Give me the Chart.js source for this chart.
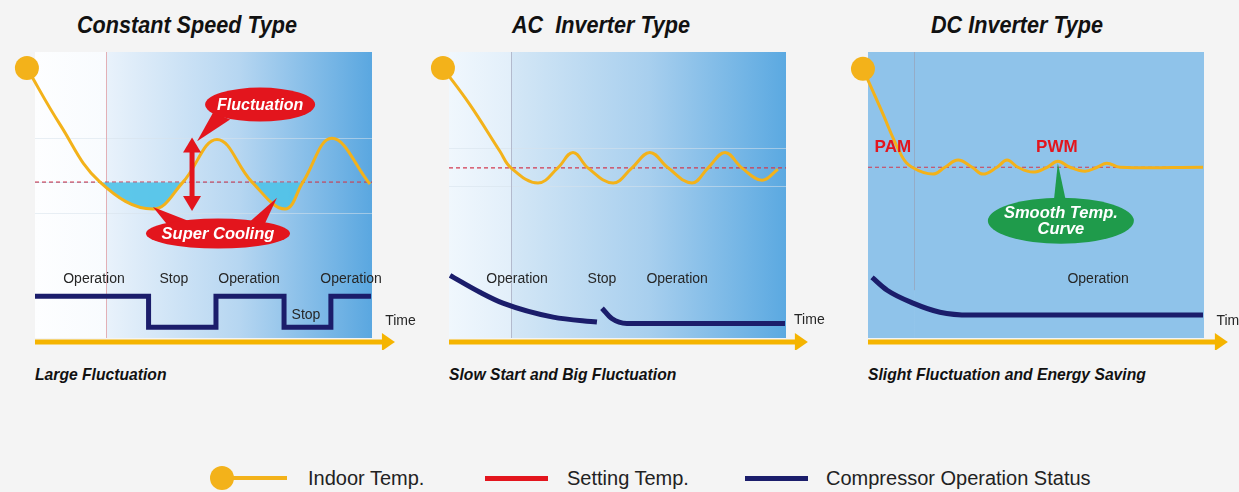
<!DOCTYPE html>
<html>
<head>
<meta charset="utf-8">
<title>Compressor type comparison</title>
<script src="https://cdn.jsdelivr.net/npm/chart.js@4.4.1/dist/chart.umd.min.js"></script>
<style>
    html, body { margin: 0; padding: 0; }
    body {
        width: 1239px; height: 492px; overflow: hidden; position: relative;
        background: #f4f4f4; color: #111;
        font-family: "Liberation Sans", Arial, sans-serif;
    }
    .title {
        position: absolute; top: 11px; white-space: pre;
        font: italic bold 24px "Liberation Sans", Arial, sans-serif;
        transform: scaleX(0.9); transform-origin: left top;
    }
    .caption {
        position: absolute; top: 365px; white-space: pre;
        font: italic bold 16.5px "Liberation Sans", Arial, sans-serif;
        transform: scaleX(0.95); transform-origin: left top;
    }
    .panel { position: absolute; top: 40px; }
    .lg-text { position: absolute; top: 467px; font: 20px "Liberation Sans", Arial, sans-serif; color: #222; white-space: pre; }
    .lg-bar { position: absolute; }
</style>
</head>
<body>

<div id="titles"></div>
<div id="captions"></div>

<canvas id="p1" class="panel" width="420" height="310" style="left:0px"></canvas>
<canvas id="p2" class="panel" width="410" height="310" style="left:420px"></canvas>
<canvas id="p3" class="panel" width="409" height="310" style="left:830px"></canvas>

<div id="legend"></div>

<script>
// text
const panelTitles = ["Constant Speed Type", "AC  Inverter Type", "DC Inverter Type"];
const panelCaptions = ["Large Fluctuation", "Slow Start and Big Fluctuation", "Slight Fluctuation and Energy Saving"];
const legendLabels = ["Indoor Temp.", "Setting Temp.", "Compressor Operation Status"];

// time runs 0..100 across each panel, temperature 0..100 from the time axis up
const constTime = [-2.4, 7.4, 19.3, 35.0, 43.9, 54.0, 64.4, 74.2, 79.5, 88.1, 99.4];
const constTemp = [94.4, 74.7, 54.5, 45.1, 54.5, 69.4, 54.5, 45.1, 54.5, 69.8, 53.8];
const constSetting = 54.5;
const constCompTime = [0, 33.7, 53.7, 73.9, 87.8, 99.7];
const constCompLevel = [14.6, 3.8, 14.6, 3.8, 14.6, 14.6];

const acTime = [-1.8, 6.2, 15.1, 18.4, 26.4, 32.3, 36.8, 41.2, 48.7, 54.3, 59.6, 65.0, 72.1, 76.9, 81.9, 86.9, 92.9, 97.6];
const acTemp = [94.4, 81.6, 65.3, 59.5, 54.2, 59.5, 64.9, 59.5, 54.2, 59.5, 64.9, 59.5, 54.2, 59.5, 64.9, 59.5, 55.2, 59.0];
const acSetting = 59.5;
const acCompTime = [0.3, 9.2, 16.0, 30.9, 43.9, 44.6, 45.4, 48.3, 52.8, 99.7];
const acCompLevel = [21.9, 16.0, 12.2, 7.3, 5.6, null, 10.4, 6.8, 5.1, 5.1];

const dcTime = [-1.5, 3.6, 10.1, 13.1, 19.3, 22.9, 26.8, 31.0, 34.2, 38.4, 41.4, 44.6, 49.1, 53.3, 56.5, 60.1, 64.6, 68.2, 71.1, 75.0, 99.7];
const dcTemp = [94.1, 80.6, 63.5, 59.7, 57.3, 59.7, 62.2, 59.7, 57.3, 59.7, 62.2, 59.7, 58.0, 59.7, 61.8, 59.7, 58.3, 59.7, 61.1, 59.7, 59.7];
const dcSetting = 59.7;
const dcCompTime = [1.2, 5.7, 13.4, 21.4, 30.4, 99.7];
const dcCompLevel = [21.2, 16.7, 12.2, 9.0, 8.0, 8.0];

const ORANGE = "#f3b21a";
const RED = "#e3151d";
const NAVY = "#1b1d6b";
const GREEN = "#1f9b4b";
const LABEL_FONT = '14px "Liberation Sans", Arial, sans-serif';

function zip(xs, ys) {
    return xs.map((x, i) => ({ x: x, y: ys[i] }));
}

// html text around the charts
const titleLeft = [77, 512, 931];
const captionLeft = [35, 449, 868];
panelTitles.forEach((t, i) => {
    const d = document.createElement("div");
    d.className = "title";
    d.style.left = titleLeft[i] + "px";
    d.textContent = t;
    document.getElementById("titles").appendChild(d);
});
panelCaptions.forEach((t, i) => {
    const d = document.createElement("div");
    d.className = "caption";
    d.style.left = captionLeft[i] + "px";
    d.textContent = t;
    document.getElementById("captions").appendChild(d);
});

function legendBar(left, top, w, h, color, round) {
    const d = document.createElement("div");
    d.className = "lg-bar";
    d.style.cssText = `left:${left}px;top:${top}px;width:${w}px;height:${h}px;background:${color};` + (round ? "border-radius:50%;" : "");
    document.getElementById("legend").appendChild(d);
}
legendBar(222, 476, 65, 3.5, ORANGE, false);
legendBar(210, 466, 24, 24, ORANGE, true);
legendBar(485, 475.5, 63, 5, RED, false);
legendBar(745, 475.5, 63, 5, NAVY, false);
[308, 567, 826].forEach((left, i) => {
    const d = document.createElement("div");
    d.className = "lg-text";
    d.style.left = left + "px";
    d.textContent = legendLabels[i];
    document.getElementById("legend").appendChild(d);
});

function drawCallout(ctx, xs, ys, c) {
    const cx = xs.getPixelForValue(c.at[0]);
    const cy = ys.getPixelForValue(c.at[1]);
    ctx.fillStyle = c.color;
    c.tips.forEach(t => {
        ctx.beginPath();
        ctx.moveTo(cx + t.base[0][0], cy + t.base[0][1]);
        ctx.lineTo(xs.getPixelForValue(t.to[0]), ys.getPixelForValue(t.to[1]));
        ctx.lineTo(cx + t.base[1][0], cy + t.base[1][1]);
        ctx.closePath();
        ctx.fill();
    });
    ctx.beginPath();
    ctx.ellipse(cx, cy, c.rx, c.ry, 0, 0, Math.PI * 2);
    ctx.fill();
    ctx.fillStyle = "#fff";
    ctx.font = c.font;
    ctx.textAlign = "center";
    ctx.textBaseline = "middle";
    c.lines.forEach((s, i) => ctx.fillText(s, cx, cy + 1 + (i - (c.lines.length - 1) / 2) * 16));
}

function diagramPlugin(p) {
    return {
        id: "diagram",
        beforeDraw(chart) {
            const { ctx, chartArea: a, scales: { x, y } } = chart;
            const split = x.getPixelForValue(p.splitAt);
            ctx.save();
            let g = ctx.createLinearGradient(a.left, 0, split, 0);
            g.addColorStop(0, p.bgLeft[0]);
            g.addColorStop(1, p.bgLeft[1]);
            ctx.fillStyle = g;
            ctx.fillRect(a.left, a.top, split - a.left, a.bottom - a.top);
            g = ctx.createLinearGradient(split, 0, a.right, 0);
            g.addColorStop(0, p.bgRight[0]);
            g.addColorStop(0.5, p.bgRight[1]);
            g.addColorStop(1, p.bgRight[2]);
            ctx.fillStyle = g;
            ctx.fillRect(split, a.top, a.right - split, a.bottom - a.top);

            ctx.strokeStyle = "rgba(215,225,235,0.55)";
            ctx.lineWidth = 1;
            p.gridAt.forEach(v => {
                const py = Math.round(y.getPixelForValue(v)) + 0.5;
                ctx.beginPath();
                ctx.moveTo(a.left, py);
                ctx.lineTo(a.right, py);
                ctx.stroke();
            });
            ctx.strokeStyle = p.markColor;
            ctx.beginPath();
            ctx.moveTo(Math.round(split) + 0.5, a.top);
            ctx.lineTo(Math.round(split) + 0.5, y.getPixelForValue(p.markBottom));
            ctx.stroke();
            ctx.restore();
        },
        afterDatasetsDraw(chart) {
            const { ctx, scales: { x, y } } = chart;
            ctx.save();

            // time axis arrow
            const ay = y.getPixelForValue(-1.4);
            const ax0 = x.getPixelForValue(0);
            const tip = x.getPixelForValue(p.arrowTo);
            ctx.fillStyle = "#f5b400";
            ctx.fillRect(ax0, ay - 2.5, tip - 12 - ax0, 5);
            ctx.beginPath();
            ctx.moveTo(tip, ay);
            ctx.lineTo(tip - 13, ay - 9);
            ctx.lineTo(tip - 13, ay + 9);
            ctx.closePath();
            ctx.fill();

            // plain labels
            ctx.font = LABEL_FONT;
            ctx.fillStyle = "#262626";
            ctx.textBaseline = "middle";
            p.notes.forEach(n => {
                ctx.textAlign = n[3] || "center";
                ctx.fillText(n[0], x.getPixelForValue(n[1]), y.getPixelForValue(n[2]));
            });
            (p.redNotes || []).forEach(n => {
                ctx.font = 'bold 17px "Liberation Sans", Arial, sans-serif';
                ctx.fillStyle = RED;
                ctx.textAlign = "center";
                ctx.fillText(n[0], x.getPixelForValue(n[1]), y.getPixelForValue(n[2]));
            });

            // double headed arrow
            if (p.doubleArrow) {
                const dx = x.getPixelForValue(p.doubleArrow[0]);
                const t = y.getPixelForValue(p.doubleArrow[1]);
                const b = y.getPixelForValue(p.doubleArrow[2]);
                ctx.fillStyle = RED;
                ctx.fillRect(dx - 2.5, t + 12, 5, b - t - 24);
                ctx.beginPath();
                ctx.moveTo(dx, t); ctx.lineTo(dx - 9, t + 15); ctx.lineTo(dx + 9, t + 15);
                ctx.closePath(); ctx.fill();
                ctx.beginPath();
                ctx.moveTo(dx, b); ctx.lineTo(dx - 9, b - 15); ctx.lineTo(dx + 9, b - 15);
                ctx.closePath(); ctx.fill();
            }

            (p.callouts || []).forEach(c => drawCallout(ctx, x, y, c));
            ctx.restore();
        },
    };
}

function makePanel(id, p) {
    const indoor = {
        data: zip(p.time, p.temp),
        borderColor: ORANGE,
        borderWidth: 3,
        tension: 0.4,
        pointRadius: p.time.map((_, i) => (i === 0 ? 12 : 0)),
        pointBackgroundColor: ORANGE,
        pointBorderWidth: 0,
        clip: false,
        fill: p.fill ? { target: { value: p.setting }, above: "rgba(0,0,0,0)", below: p.fill } : false,
    };
    const setting = {
        data: [{ x: 0, y: p.setting }, { x: 100, y: p.setting }],
        borderColor: "#d23a50",
        borderWidth: 1.2,
        borderDash: [4, 3],
        pointRadius: 0,
        fill: false,
    };
    const comp = {
        data: zip(p.compTime, p.compLevel),
        borderColor: NAVY,
        borderWidth: 5,
        borderCapStyle: "butt",
        borderJoinStyle: "miter",
        stepped: p.stepped || false,
        cubicInterpolationMode: "monotone",
        spanGaps: false,
        pointRadius: 0,
        fill: false,
    };
    return new Chart(document.getElementById(id), {
        type: "line",
        data: { datasets: [indoor, setting, comp] },
        options: {
            responsive: false,
            animation: false,
            devicePixelRatio: 1,
            events: [],
            layout: { padding: p.padding },
            scales: {
                x: { type: "linear", min: 0, max: 100, display: false },
                y: { type: "linear", min: 0, max: 100, display: false },
            },
            plugins: { legend: { display: false }, tooltip: { enabled: false } },
        },
        plugins: [diagramPlugin(p)],
    });
}

makePanel("p1", {
    time: constTime, temp: constTemp, setting: constSetting,
    compTime: constCompTime, compLevel: constCompLevel, stepped: true,
    fill: "rgba(78,194,232,0.9)",
    padding: { left: 35, right: 48, top: 10, bottom: 12 },
    splitAt: 21.1, markBottom: 0, markColor: "rgba(225,160,165,0.8)",
    bgLeft: ["#fdfeff", "#f8fbfe"], bgRight: ["#e9f2fb", "#b6d6f1", "#5aa7e0"],
    gridAt: [69.8, 43.8],
    arrowTo: 106.8,
    notes: [
        ["Operation", 17.5, 20.5], ["Stop", 41.2, 20.5], ["Operation", 63.5, 20.5],
        ["Operation", 93.8, 20.5], ["Stop", 80.4, 8.0], ["Time", 103.9, 5.9, "left"],
    ],
    doubleArrow: [46.6, 70.1, 44.4],
    callouts: [
        {
            lines: ["Fluctuation"], at: [66.8, 81.6], rx: 55, ry: 17, color: RED,
            font: 'italic bold 16px "Liberation Sans", Arial, sans-serif',
            tips: [{ to: [48.1, 68.8], base: [[-47, 8], [-30, 15]] }],
        },
        {
            lines: ["Super Cooling"], at: [54.3, 36.5], rx: 72, ry: 15, color: RED,
            font: 'italic bold 16.5px "Liberation Sans", Arial, sans-serif',
            tips: [
                { to: [35.0, 45.8], base: [[-50, -8], [-28, -12]] },
                { to: [71.8, 49.0], base: [[32, -12], [46, -8]] },
            ],
        },
    ],
});

makePanel("p2", {
    time: acTime, temp: acTemp, setting: acSetting,
    compTime: acCompTime, compLevel: acCompLevel,
    padding: { left: 29, right: 44, top: 10, bottom: 12 },
    splitAt: 18.4, markBottom: 0, markColor: "rgba(170,175,195,0.8)",
    bgLeft: ["#f0f7fd", "#e2effa"], bgRight: ["#d4e7f6", "#a8cfee", "#5ba9e1"],
    gridAt: [66.3, 53.1],
    arrowTo: 106.5,
    notes: [
        ["Operation", 20.2, 20.5], ["Stop", 45.4, 20.5], ["Operation", 67.7, 20.5],
        ["Time", 102.4, 6.25, "left"],
    ],
});

makePanel("p3", {
    time: dcTime, temp: dcTemp, setting: dcSetting,
    compTime: dcCompTime, compLevel: dcCompLevel,
    padding: { left: 38, right: 35, top: 10, bottom: 12 },
    splitAt: 13.7, markBottom: 16.7, markColor: "rgba(150,170,195,0.9)",
    bgLeft: ["#8fc3ea", "#8fc3ea"], bgRight: ["#8fc3ea", "#8fc3ea", "#8fc3ea"],
    gridAt: [],
    arrowTo: 107.1,
    notes: [["Operation", 68.5, 20.5], ["Time", 103.7, 5.9, "left"]],
    redNotes: [["PAM", 7.4, 66.7], ["PWM", 56.2, 66.7]],
    callouts: [
        {
            lines: ["Smooth Temp.", "Curve"], at: [57.4, 41.0], rx: 73, ry: 23, color: GREEN,
            font: 'italic bold 16.5px "Liberation Sans", Arial, sans-serif',
            tips: [{ to: [56.5, 61.1], base: [[-7, -20], [5, -20]] }],
        },
    ],
});
</script>
</body>
</html>
